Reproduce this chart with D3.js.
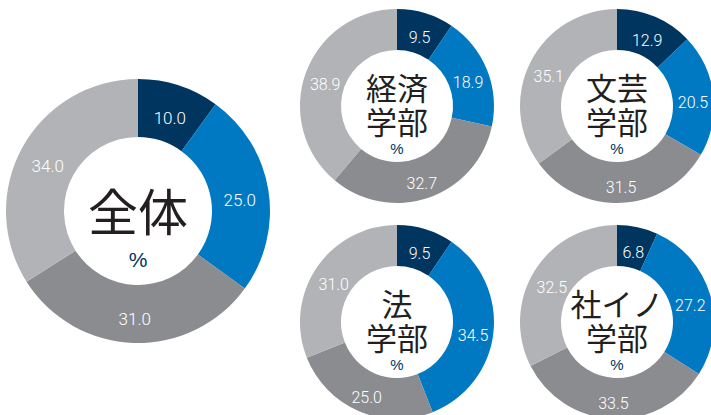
<!DOCTYPE html>
<html>
<head>
<meta charset="utf-8">
<script src="https://cdn.jsdelivr.net/npm/d3@7"></script>
<style>
  body { margin: 0; background: #fff; }
  .val { font-family: Roboto, 'Liberation Sans', Arial, sans-serif; font-weight: 300; fill: #fff; }
  .nombre { font-family: 'Noto Sans CJK JP', sans-serif; fill: #231f20; }
  .pct { font-family: 'Liberation Sans', Arial, sans-serif; fill: #00355f; }
</style>
</head>
<body>
<div id="graf"></div>
<script>
// I. Datos
grupos  = ['全体', '経済学部', '文芸学部', '法学部', '社イノ学部']
lineas  = [['全体'], ['経済', '学部'], ['文芸', '学部'], ['法', '学部'], ['社イノ', '学部']]
zentai  = [10.0, 25.0, 31.0, 34.0]
keizai  = [9.5, 18.9, 32.7, 38.9]
bungei  = [12.9, 20.5, 31.5, 35.1]
hou     = [9.5, 34.5, 25.0, 31.0]
shaino  = [6.8, 27.2, 33.5, 32.5]
valores = [zentai, keizai, bungei, hou, shaino]

// II. Configuración
ancho_total = 711
alto_total = 415

svg = d3.select('#graf').append('svg')
        .attr('width', ancho_total)
        .attr('height', alto_total)

color = d3.scaleOrdinal()
          .domain([0, 1, 2, 3])
          .range(['#00355f', '#0079c2', '#8b8c90', '#b2b3b7'])

pie = d3.pie().sort(null).value(d => d)

// posición y tamaño de cada dona
layout = [
  { cx: 138, cy: 211, ro: 132, ri: 74, fs: 17, ts: 50, lh: 0,  tdy: 2,   pdy: 49, ps: 21 },
  { cx: 397, cy: 106, ro: 97,  ri: 56, fs: 16, ts: 31, lh: 34, tdy: -17, pdy: 43, ps: 15 },
  { cx: 617, cy: 106, ro: 97,  ri: 56, fs: 16, ts: 31, lh: 34, tdy: -17, pdy: 43, ps: 15 },
  { cx: 397, cy: 322, ro: 97,  ri: 56, fs: 16, ts: 31, lh: 34, tdy: -17, pdy: 43, ps: 15 },
  { cx: 617, cy: 322, ro: 97,  ri: 56, fs: 16, ts: 31, lh: 34, tdy: -17, pdy: 43, ps: 15 }
]

// III. Dibujo
grupos.forEach((nombre, i) => {
  l = layout[i]
  g = svg.append('g')
         .attr('transform', `translate(${ l.cx }, ${ l.cy })`)

  arc = d3.arc().innerRadius(l.ri).outerRadius(l.ro)
  arcos = pie(valores[i])

  g.selectAll('path')
   .data(arcos)
   .enter()
   .append('path')
     .attr('d', arc)
     .attr('fill', (d, j) => color(j))

  g.selectAll('text.val')
   .data(arcos)
   .enter()
   .append('text')
     .attr('class', 'val')
     .attr('x', d => arc.centroid(d)[0])
     .attr('y', d => arc.centroid(d)[1] + 5)
     .attr('dy', '0.35em')
     .attr('text-anchor', 'middle')
     .style('font-size', l.fs + 'px')
     .text(d => d.data.toFixed(1))

  // nombre del grupo (una o dos líneas en un solo texto)
  titulo = g.append('text')
            .attr('class', 'nombre')
            .attr('text-anchor', 'middle')
            .style('font-size', l.ts + 'px')
  lineas[i].forEach((t, k) => {
    titulo.append('tspan')
          .attr('x', 0)
          .attr('y', l.tdy + k * l.lh)
          .attr('dy', '0.35em')
          .text(t)
  })

  g.append('text')
   .attr('class', 'pct')
   .attr('x', 0)
   .attr('y', l.pdy)
   .attr('dy', '0.35em')
   .attr('text-anchor', 'middle')
   .style('font-size', l.ps + 'px')
   .text('%')
})
</script>
</body>
</html>
